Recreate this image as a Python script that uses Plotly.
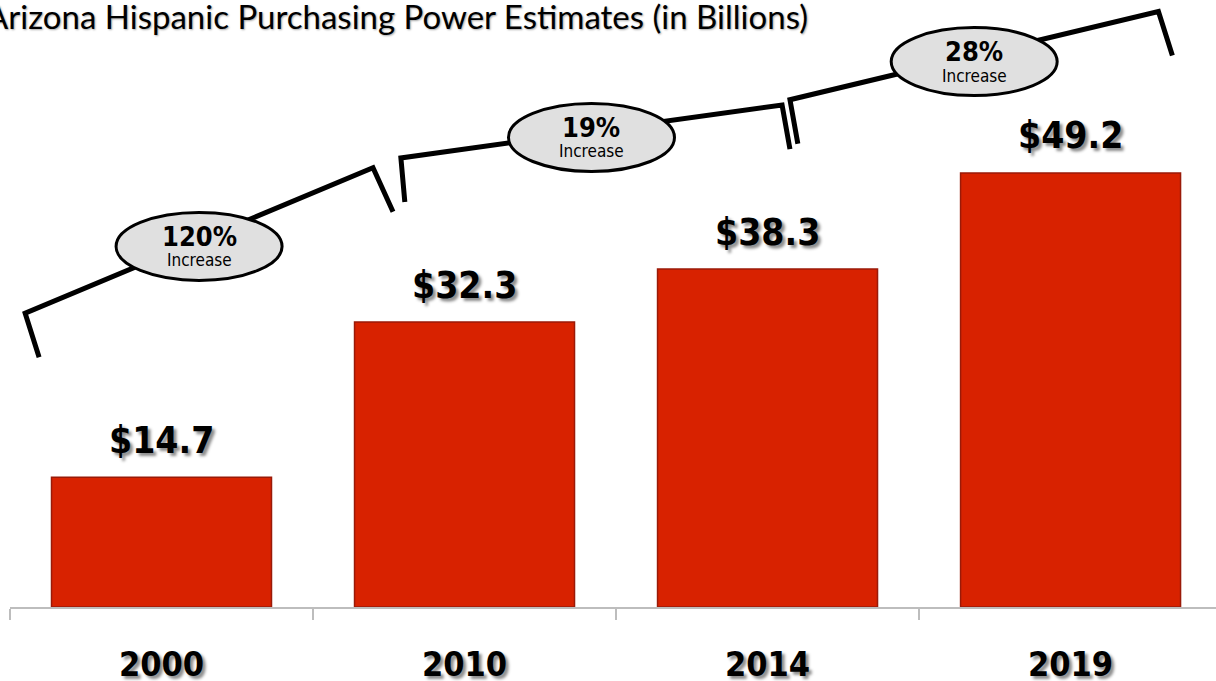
import plotly.graph_objects as go

# ---------------- data ----------------
years = ["2000", "2010", "2014", "2019"]
values = [14.7, 32.3, 38.3, 49.2]
value_labels = ["$14.7", "$32.3", "$38.3", "$49.2"]
increase_labels = ["120%", "19%", "28%"]
increase_word = "Increase"
title_text = "Arizona Hispanic Purchasing Power Estimates (in Billions)"

# ---------------- layout / style constants ----------------
W, H = 1216, 681
ML, MB = 10, 74
Y_TOP = 68.8
X_RANGE = [-0.5, 3.48]
BAR_W = 0.726
BAR_COLOR = "#D82200"
BAR_EDGE = "#9A1A08"
HEAVY = "DejaVu Sans Condensed, DejaVu Sans, sans-serif"

# bracket geometry (category units / data units), decorative
B_LDX = [-0.45, -0.21, 0.074]     # left corner relative to left category
B_RDX = [-0.302, 0.048, 0.29]     # right corner relative to right category
B_RISE_L = [18.6, 18.6, 19.2]     # height of left corner above left bar
B_RISE_R = [17.5, 18.6, 18.3]     # height of right corner above right bar
B_DROP = 5.0
B_SLANT_L = [0.046, 0.013, 0.026]
B_SLANT_R = [0.066, 0.026, 0.046]

x_idx = list(range(len(years)))

fig = go.Figure()

fig.add_trace(go.Bar(
    x=x_idx, y=values, width=BAR_W,
    marker=dict(color=BAR_COLOR, line=dict(color=BAR_EDGE, width=1.5)),
    hoverinfo="skip", showlegend=False,
))

shapes = []
annotations = []

for k in range(len(increase_labels)):
    lx = k + B_LDX[k]
    rx = k + 1 + B_RDX[k]
    ly = values[k] + B_RISE_L[k]
    ry = values[k + 1] + B_RISE_R[k]
    fig.add_trace(go.Scatter(
        x=[lx + B_SLANT_L[k], lx, rx, rx + B_SLANT_R[k]],
        y=[ly - B_DROP, ly, ry, ry - B_DROP],
        mode="lines", line=dict(color="black", width=5),
        hoverinfo="skip", showlegend=False, cliponaxis=False,
    ))
    mx, my = (lx + rx) / 2, (ly + ry) / 2
    shapes.append(dict(
        type="circle", xref="x", yref="y",
        xsizemode="pixel", ysizemode="pixel",
        xanchor=mx, yanchor=my,
        x0=-83, x1=83, y0=-40, y1=28,
        fillcolor="#E0E0E0", line=dict(color="black", width=3),
        layer="above",
    ))
    annotations.append(dict(
        x=mx, y=my, xref="x", yref="y", text=increase_labels[k],
        showarrow=False, yshift=4,
        font=dict(family=HEAVY, size=27, color="black", weight="bold"),
    ))
    annotations.append(dict(
        x=mx, y=my, xref="x", yref="y", text=increase_word,
        showarrow=False, yshift=-20,
        font=dict(family=HEAVY, size=17, color="black"),
    ))

for i, v in enumerate(values):
    annotations.append(dict(
        x=i, y=v, xref="x", yref="y", text=value_labels[i],
        showarrow=False, yanchor="middle", yshift=37,
        font=dict(family=HEAVY, size=37, color="black", weight="bold",
                  shadow="3px 3px 3px rgba(0,0,0,0.45)"),
    ))

# title (left edge clipped as in the reference)
annotations.append(dict(
    x=(810 - ML) / (W - ML), y=1, xref="paper", yref="paper",
    xanchor="right", yanchor="top", yshift=6,
    text=title_text, showarrow=False,
    font=dict(family="Lato", size=33, color="black",
              shadow="1px 1px 2px rgba(0,0,0,0.35)"),
))

fig.update_layout(
    width=W, height=H,
    margin=dict(l=ML, r=0, t=0, b=MB, autoexpand=False),
    paper_bgcolor="white", plot_bgcolor="white",
    shapes=shapes, annotations=annotations,
    xaxis=dict(
        range=X_RANGE, tickmode="array", tickvals=x_idx, ticktext=years,
        ticks="", showgrid=False, zeroline=False, automargin=False,
        showline=True, linecolor="#BDBDBD", linewidth=2,
        minor=dict(tickmode="array", tickvals=[-0.5, 0.5, 1.5, 2.5],
                   ticks="outside", ticklen=11, tickwidth=2, tickcolor="#BDBDBD"),
        tickfont=dict(family=HEAVY, size=34, color="black", weight="bold",
                      shadow="3px 3px 3px rgba(0,0,0,0.45)"),
        ticklabelstandoff=26,
        fixedrange=True,
    ),
    yaxis=dict(range=[0, Y_TOP], visible=False, fixedrange=True, automargin=False),
)

fig.write_html(
    "out.html",
    config={"displayModeBar": False},
    post_script="document.body.style.margin='0px';document.body.style.overflow='hidden';",
)
